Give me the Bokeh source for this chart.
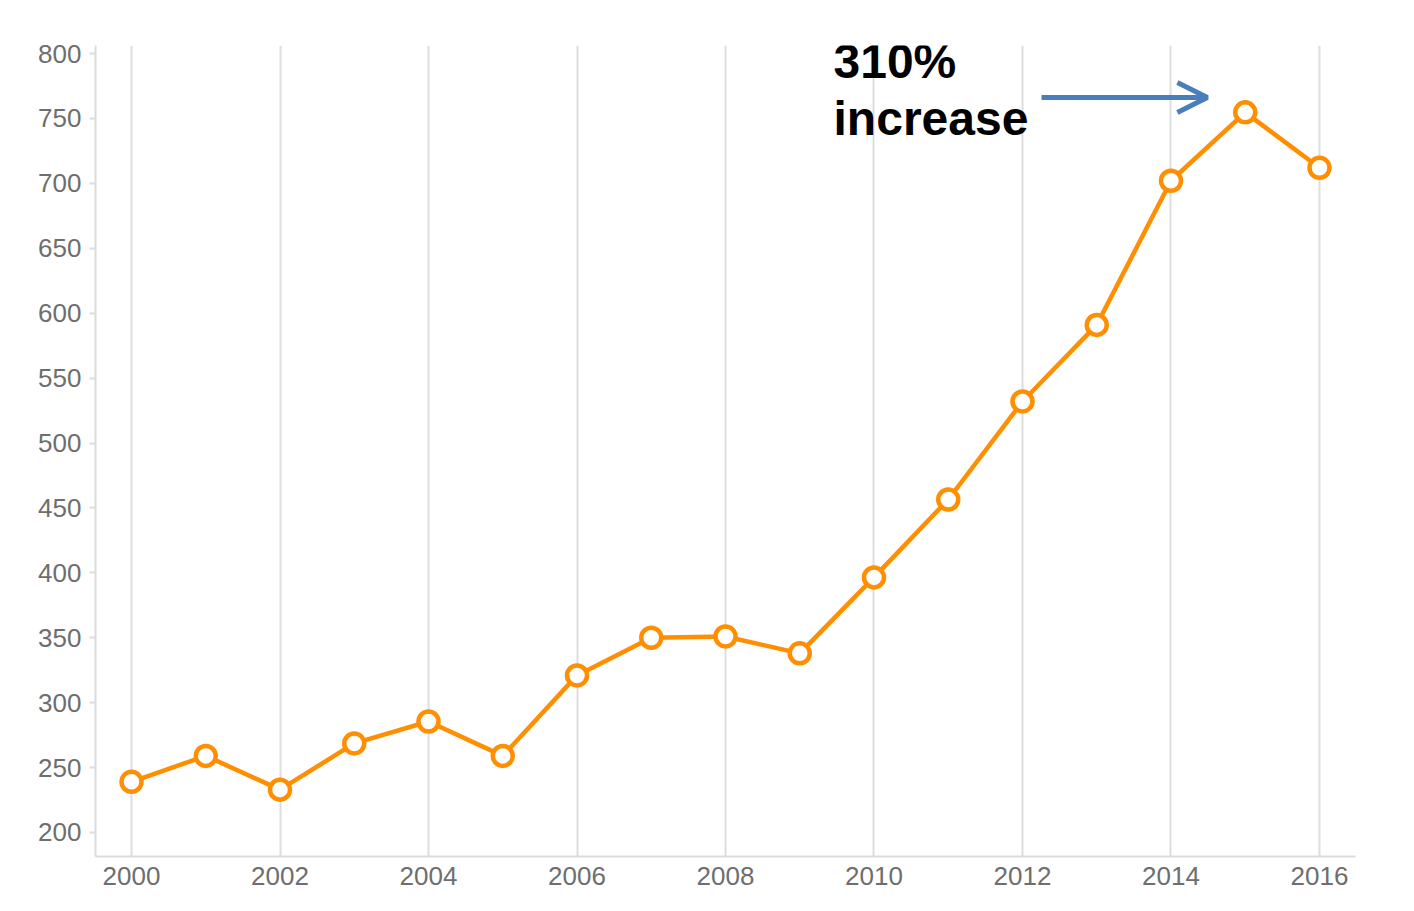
from bokeh.plotting import figure
from bokeh.models import Range1d, FixedTicker, Label, Arrow, OpenHead, ColumnDataSource
from bokeh.embed import file_html
from bokeh.resources import INLINE

years = list(range(2000, 2017))
values = [239, 259, 233, 268.6, 285.5, 259, 321, 350, 351, 338, 396.5, 456.5, 532, 591, 702, 754.7, 712]
x_ticks = [2000, 2002, 2004, 2006, 2008, 2010, 2012, 2014, 2016]
y_ticks = [200, 250, 300, 350, 400, 450, 500, 550, 600, 650, 700, 750, 800]
annotation_lines = ["310%", "increase"]

FONT = "Liberation Sans"
GRAY = "#6e6e6e"
ORANGE = "#ff8f00"

p = figure(width=1398, height=895, output_backend="svg", toolbar_location=None,
           x_range=Range1d(1999.515, 2016.485), y_range=Range1d(181.5, 806.2),
           min_border_left=95, min_border_top=45, min_border_bottom=39, min_border_right=43)
p.outline_line_color = None
p.background_fill_color = "white"
p.border_fill_color = "white"

# axes
p.xaxis.ticker = FixedTicker(ticks=x_ticks)
p.yaxis.ticker = FixedTicker(ticks=y_ticks)
for ax in (p.xaxis[0], p.yaxis[0]):
    ax.axis_line_color = "#dcdcdc"
    ax.axis_line_width = 2
    ax.major_label_text_font = FONT
    ax.major_label_text_font_size = "26px"
    ax.major_label_text_color = GRAY
    ax.minor_tick_line_color = None
p.xaxis.major_tick_line_color = None
p.xaxis.major_tick_out = 0
p.xaxis.major_tick_in = 0
p.xaxis.major_label_standoff = 10
p.yaxis.major_tick_line_color = "#dcdcdc"
p.yaxis.major_tick_line_width = 2
p.yaxis.major_tick_out = 6
p.yaxis.major_tick_in = 0
p.yaxis.major_label_standoff = 8

p.xgrid.ticker = FixedTicker(ticks=x_ticks)
p.xgrid.grid_line_color = "#dddddd"
p.xgrid.grid_line_width = 2
p.ygrid.grid_line_color = None

src = ColumnDataSource(dict(x=years, y=values))
p.line("x", "y", source=src, line_color=ORANGE, line_width=4.5)
p.scatter("x", "y", source=src, size=20, fill_color="white", line_color=ORANGE, line_width=4.5)

# annotation
ann_x = 2009.455
ann_y = [793.8, 749.9]
for t, yy in zip(annotation_lines, ann_y):
    p.add_layout(Label(x=ann_x, y=yy, text=t, text_font=FONT, text_font_size="48px",
                       text_font_style="bold", text_color="black", text_baseline="alphabetic"))

p.add_layout(Arrow(x_start=2012.256, y_start=766.1, x_end=2014.49, y_end=766.1,
                   line_color="#4a7ebb", line_width=5,
                   end=OpenHead(size=30, line_color="#4a7ebb", line_width=5)))

open("out.html", "w").write(file_html(p, INLINE))
